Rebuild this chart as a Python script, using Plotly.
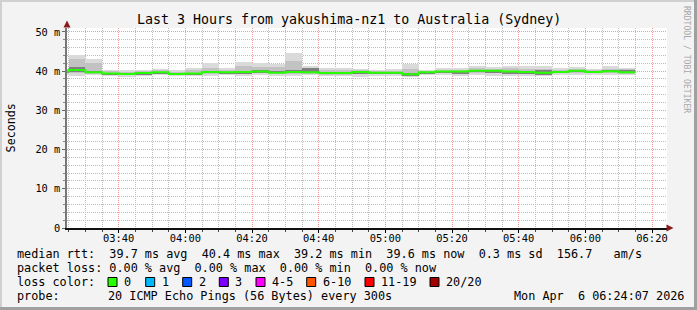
import plotly.graph_objects as go
import pandas as pd

# ---------------- data ----------------
bar_start = pd.date_range('2026-04-06 03:20', periods=35, freq='5min')

median_rtt = [39.9, 40.3, 39.7, 39.4, 39.3, 39.5, 39.7, 39.3, 39.4, 39.8,
              39.7, 39.8, 39.9, 39.6, 39.8, 39.7, 39.5, 39.5, 39.8, 39.6,
              39.6, 39.2, 39.7, 39.9, 39.9, 40.1, 40.1, 39.9, 39.8, 39.6,
              39.8, 40.1, 39.8, 40.0, 39.7]
smoke_max = [40.5, 44.1, 43.1, 40.3, 40.2, 40.3, 40.6, 40.2, 40.7, 42.0,
             40.9, 42.3, 42.1, 41.8, 44.7, 41.3, 40.7, 40.8, 40.6, 40.3,
             40.6, 41.7, 40.3, 40.8, 40.8, 41.3, 41.1, 41.3, 41.3, 41.3,
             40.7, 41.0, 40.6, 41.2, 40.8]
smoke_hi2 = [40.2, 43.0, 42.2, 40.0, 39.9, 40.0, 40.2, 39.9, 40.2, 40.8,
             40.4, 41.3, 41.0, 41.0, 42.5, 40.9, 40.2, 40.3, 40.2, 40.0,
             40.1, 40.5, 40.0, 40.4, 40.4, 40.8, 40.6, 40.7, 40.6, 40.5,
             40.2, 40.6, 40.2, 40.6, 40.5]
core_hi = [40.1, 41.0, 40.0, 39.6, 39.5, 39.7, 39.9, 39.5, 39.6, 40.1,
           39.9, 40.0, 40.3, 40.0, 40.3, 40.8, 39.7, 39.7, 40.0, 39.9,
           39.8, 39.5, 39.9, 40.1, 40.1, 40.4, 40.3, 40.1, 40.0, 40.4,
           40.0, 40.3, 40.0, 40.3, 40.3]
core_lo = [39.6, 39.7, 39.4, 39.1, 39.1, 39.1, 39.4, 39.1, 39.2, 39.5,
           39.5, 39.2, 39.6, 39.4, 39.5, 39.5, 39.3, 39.3, 39.5, 39.4,
           39.4, 39.0, 39.5, 39.6, 39.3, 39.8, 39.5, 39.2, 39.5, 39.0,
           39.6, 39.8, 39.6, 39.7, 39.6]
smoke_lo2 = [39.4, 39.6, 39.3, 39.0, 38.9, 39.1, 39.3, 39.0, 39.0, 39.3,
             39.3, 39.2, 39.4, 39.2, 39.3, 39.3, 39.1, 39.1, 39.3, 39.2,
             39.2, 38.9, 39.3, 39.4, 39.3, 39.6, 39.4, 39.2, 39.3, 39.0,
             39.4, 39.6, 39.4, 39.5, 39.3]
smoke_min = [38.9, 38.8, 38.9, 38.7, 38.6, 38.8, 38.9, 38.7, 38.7, 38.8,
             38.9, 38.7, 38.9, 38.8, 38.8, 38.9, 38.7, 38.7, 38.6, 38.8,
             38.8, 38.6, 38.9, 38.9, 38.8, 39.0, 38.8, 38.7, 38.8, 38.7,
             39.0, 39.1, 39.0, 39.0, 38.9]

y_tick_vals = [0, 10, 20, 30, 40, 50]
y_tick_text = ['0', '10 m', '20 m', '30 m', '40 m', '50 m']

title_text = 'Last 3 Hours from yakushima-nz1 to Australia (Sydney)'
legend_rows = [
    'median rtt:  39.7 ms avg  40.4 ms max  39.2 ms min  39.6 ms now  0.3 ms sd  156.7   am/s',
    'packet loss: 0.00 % avg  0.00 % max  0.00 % min  0.00 % now',
]
loss_labels = ['0', '1', '2', '3', '4-5', '6-10', '11-19', '20/20']
loss_colors = ['#26ff00', '#00b8ff', '#0059ff', '#7e00ff', '#ff00ff', '#ff5500', '#ff0000', '#a10000']
probe_text = '20 ICMP Echo Pings (56 Bytes) every 300s'
date_text = 'Mon Apr  6 06:24:07 2026'

# ---------------- layout geometry ----------------
W, H = 697, 310
L, R, T, B = 67, 30, 28, 82
PW, PH = W - L - R, H - T - B
BOT = H - B
MONO = 'DejaVu Sans Mono'


def fx(px):
    return (px - L) / PW


def fy(py):
    return (BOT - py) / PH


def nb(s):
    return s.replace(' ', '\u00a0')


fig = go.Figure()
centers = bar_start + pd.Timedelta(seconds=150)
step_ms = 300000


def band(lo, hi, color):
    fig.add_trace(go.Bar(
        x=centers, base=lo, y=[h - l for h, l in zip(hi, lo)], width=step_ms,
        marker=dict(color=color, line=dict(width=0)), hoverinfo='skip',
        showlegend=False))


band(smoke_min, smoke_max, '#dadada')
band(smoke_lo2, smoke_hi2, '#c2c2c2')
band(core_lo, core_hi, '#808080')

xs = list(bar_start) + [bar_start[-1] + pd.Timedelta(minutes=5)]
fig.add_trace(go.Scatter(
    x=xs, y=median_rtt + [median_rtt[-1]], mode='lines',
    line=dict(color='#26ff00', width=2, shape='hv'),
    hoverinfo='skip', showlegend=False))

minor_grid = '#bdbdbd'
major_grid = '#f09a9a'

fig.update_layout(
    width=W, height=H, margin=dict(l=L, r=R, t=T, b=B, pad=0),
    paper_bgcolor='#f3f3f3', plot_bgcolor='#ffffff',
    barmode='overlay', bargap=0,
    font=dict(family=MONO, size=10.4, color='#000'),
    xaxis=dict(
        type='date', range=['2026-04-06 03:24:30', '2026-04-06 06:24:30'],
        tick0='2026-04-06 00:00', dtick=1200000, tickformat='%H:%M',
        showgrid=True, gridcolor=major_grid, griddash='1px,1px', gridwidth=1,
        ticks='outside', ticklen=3, tickcolor='#000', ticklabelstandoff=-3,
        showline=True, linecolor='#111', linewidth=1.5,
        zeroline=False, tickfont=dict(family=MONO, size=10.4),
        minor=dict(dtick=300000, showgrid=True, gridcolor=minor_grid,
                   griddash='1px,1px', ticks='outside', ticklen=2, tickcolor='#444'),
        fixedrange=True,
    ),
    yaxis=dict(
        range=[0, 51], tickvals=y_tick_vals, ticktext=y_tick_text,
        showgrid=True, gridcolor=major_grid, griddash='1px,1px',
        ticks='outside', ticklen=3, tickcolor='#666',
        showline=True, linecolor='#777', linewidth=1.5, zeroline=False,
        tickfont=dict(family=MONO, size=10.3),
        minor=dict(dtick=2, showgrid=True, gridcolor=minor_grid,
                   griddash='1px,1px', ticks='outside', ticklen=2, tickcolor='#888'),
        fixedrange=True,
    ),
)

ann = []


def text(px, py, s, size=11.8, xanchor='left', color='#000', angle=0):
    ann.append(dict(x=fx(px), y=fy(py), xref='paper', yref='paper', text=nb(s),
                    showarrow=False, xanchor=xanchor, yanchor='middle',
                    font=dict(family=MONO, size=size, color=color),
                    textangle=angle, borderpad=0))


text(348.5, 19, title_text, size=13.3, xanchor='center')
text(10.7, 127.7, 'Seconds', size=11.7, xanchor='center', angle=-90)
text(687, 59, 'RRDTOOL / TOBI OETIKER', size=8.1, xanchor='center', color='#a8a8a8', angle=90)
text(16, 254, legend_rows[0])
text(16, 268.3, legend_rows[1])
text(16, 281.7, 'loss color:')
text(16, 296, 'probe:')
text(107.3, 296, probe_text)
text(513.3, 296, date_text)

box_left = [108, 145.7, 182.7, 219.3, 256, 306.7, 365, 430]
shapes = []
for bx, lab, col in zip(box_left, loss_labels, loss_colors):
    shapes.append(dict(type='rect', xref='paper', yref='paper',
                       x0=fx(bx), x1=fx(bx + 9), y0=fy(286.5), y1=fy(277.5),
                       fillcolor=col, line=dict(color='#000', width=1)))
    text(bx + 15, 281.7, lab)

# axis arrows
arrow_col = '#8b1a1a'
shapes.append(dict(type='path', xref='paper', yref='paper',
                   path=f'M {fx(63.5)} {fy(27.5)} L {fx(70.5)} {fy(27.5)} L {fx(67)} {fy(20.5)} Z',
                   fillcolor=arrow_col, line=dict(width=0)))
shapes.append(dict(type='path', xref='paper', yref='paper',
                   path=f'M {fx(666.5)} {fy(224.5)} L {fx(666.5)} {fy(231.5)} L {fx(673.5)} {fy(228)} Z',
                   fillcolor=arrow_col, line=dict(width=0)))
# 3D frame
light, dark = '#d0d0d0', '#a0a0a0'
shapes += [
    dict(type='rect', xref='paper', yref='paper', x0=fx(0), x1=fx(W), y0=fy(0), y1=fy(2),
         fillcolor=light, line=dict(width=0)),
    dict(type='rect', xref='paper', yref='paper', x0=fx(0), x1=fx(2), y0=fy(0), y1=fy(H),
         fillcolor=light, line=dict(width=0)),
    dict(type='rect', xref='paper', yref='paper', x0=fx(0), x1=fx(W), y0=fy(H - 3), y1=fy(H),
         fillcolor=dark, line=dict(width=0)),
    dict(type='rect', xref='paper', yref='paper', x0=fx(W - 3), x1=fx(W), y0=fy(0), y1=fy(H),
         fillcolor=dark, line=dict(width=0)),
]

fig.update_layout(annotations=ann, shapes=shapes)
fig.write_html('out.html', config={'displayModeBar': False})
